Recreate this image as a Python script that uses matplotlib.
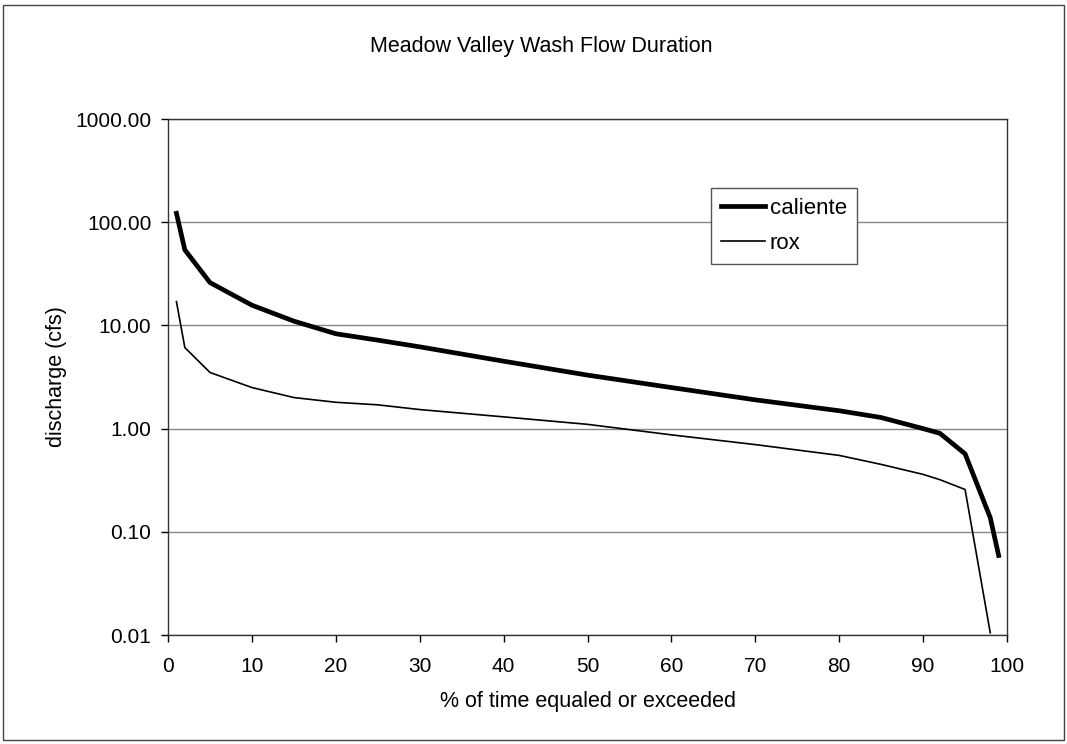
import numpy as np
import matplotlib.pyplot as plt
from matplotlib.patches import Rectangle

# % of time equaled or exceeded
pct = [1, 2, 5, 10, 15, 20, 25, 30, 40, 50, 60, 70, 80, 85, 90, 92, 95, 98, 99]
caliente = [122, 54, 26, 15.7, 11, 8.3, 7.2, 6.2, 4.5, 3.3, 2.5, 1.9, 1.49, 1.28, 1.0, 0.9, 0.57, 0.137, 0.059]

pct_rox = [1, 2, 5, 10, 15, 20, 25, 30, 40, 50, 60, 70, 80, 85, 90, 92, 95, 98]
rox = [17, 6.1, 3.5, 2.5, 2.0, 1.8, 1.7, 1.53, 1.3, 1.1, 0.87, 0.7, 0.55, 0.45, 0.36, 0.32, 0.257, 0.0105]

yticks = [0.01, 0.1, 1, 10, 100, 1000]

plt.rcParams['font.family'] = ['Liberation Sans', 'DejaVu Sans']

fig = plt.figure(figsize=(10.67, 7.44), dpi=100)
ax = fig.add_axes([0.1575, 0.1465, 0.7863, 0.6935])

ax.plot(pct, caliente, color='black', lw=3.4, label='caliente', solid_joinstyle='round')
ax.plot(pct_rox, rox, color='black', lw=1.2, label='rox')

ax.set_yscale('log')
ax.set_ylim(0.01, 1000)
ax.set_xlim(0, 100)
ax.set_yticks(yticks)
ax.set_yticklabels(['%.2f' % v for v in yticks])
ax.minorticks_off()
ax.set_xticks(range(0, 101, 10))
ax.yaxis.grid(True, color='#888888', lw=1)
ax.set_axisbelow(True)
ax.tick_params(labelsize=15, direction='out', length=5, width=1)
ax.tick_params(axis='y', pad=7)
ax.tick_params(axis='x', pad=11)
for s in ax.spines.values():
    s.set_color('#333333')
    s.set_linewidth(1)

ax.set_xlabel('% of time equaled or exceeded', fontsize=15.5)
ax.xaxis.set_label_coords(0.5, -0.108)
ax.set_ylabel('discharge (cfs)', fontsize=15.5)
ax.yaxis.set_label_coords(-0.12, 0.5)
fig.text(0.507, 0.937, 'Meadow Valley Wash Flow Duration', ha='center', va='center', fontsize=15.5)

leg = ax.legend(loc='upper left', bbox_to_anchor=(0.647, 0.866), fontsize=16,
                frameon=True, fancybox=False, edgecolor='#555555', framealpha=1,
                handlelength=2.0, handletextpad=0.2, borderpad=0.45, labelspacing=0.6,
                borderaxespad=0)
leg.get_frame().set_linewidth(1)

fig.patches.append(Rectangle((0.003, 0.006), 0.994, 0.987, transform=fig.transFigure,
                             fill=False, edgecolor='#444444', lw=1))

fig.savefig('out.png', dpi=100)
